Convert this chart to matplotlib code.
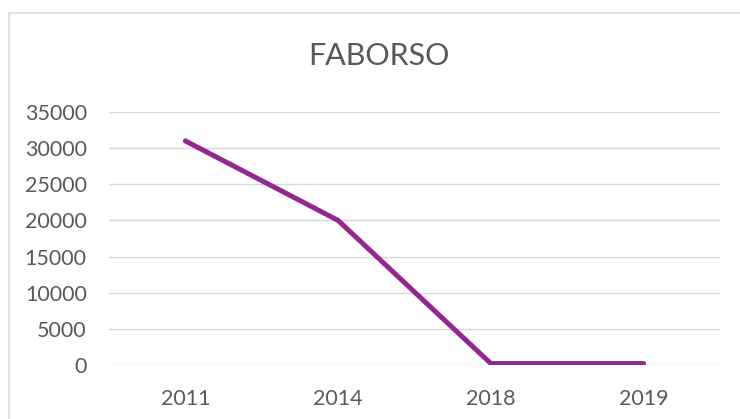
import matplotlib
matplotlib.use("Agg")
import matplotlib.pyplot as plt
from matplotlib.patches import Rectangle

years = ["2011", "2014", "2018", "2019"]
values = [31000, 20000, 200, 200]
y_ticks = [0, 5000, 10000, 15000, 20000, 25000, 30000, 35000]
title = "FABORSO"

W, H = 740, 419
grey_txt = "#595959"
grid_c = "#d9d9d9"
purple = "#92278F"

plt.rcParams["font.family"] = ["Lato", "DejaVu Sans"]

fig = plt.figure(figsize=(W / 100, H / 100), dpi=100)
ax = fig.add_axes([109 / W, 1 - 365 / H, (720 - 109) / W, (365 - 112) / H])

x = list(range(len(years)))
ax.plot(x, values, color=purple, lw=3.6, solid_capstyle="round", solid_joinstyle="miter", zorder=3)

ax.set_xlim(-0.5, len(years) - 0.5)
ax.set_ylim(0, 35000)
ax.set_xticks(x)
ax.set_xticklabels(years)
ax.set_yticks(y_ticks)
ax.set_yticklabels([str(v) for v in y_ticks])
ax.grid(axis="y", color=grid_c, lw=1.0)
ax.set_axisbelow(True)
for s in ax.spines.values():
    s.set_visible(False)
ax.tick_params(axis="both", length=0, labelsize=15.5, labelcolor=grey_txt)
ax.tick_params(axis="y", pad=16)
ax.tick_params(axis="x", pad=17)

fig.text(379 / W, 1 - 56 / H, title, ha="center", va="center", fontsize=22, color=grey_txt)

# chart border (right and bottom edges fall outside the picture)
fig.patches.append(Rectangle((8.5 / W, -0.1), 1.2, 1 - 13 / H + 0.1, transform=fig.transFigure,
                             fill=False, edgecolor=grid_c, lw=1.2))

fig.savefig("out.png", dpi=100)
